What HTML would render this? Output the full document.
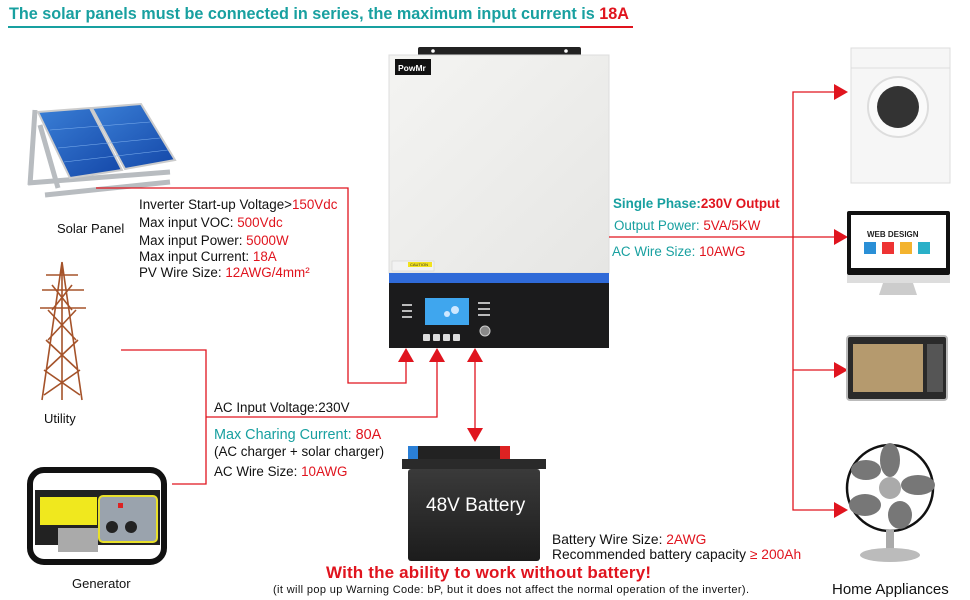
<!DOCTYPE html>
<html><head><meta charset="utf-8"><style>
html,body{margin:0;padding:0;background:#fff;}
svg{display:block;font-family:"Liberation Sans",Arial,sans-serif;}
</style></head><body>
<svg width="970" height="600" viewBox="0 0 970 600" xmlns="http://www.w3.org/2000/svg">
<defs>
<linearGradient id="pan" x1="0" y1="0" x2="1" y2="1"><stop offset="0" stop-color="#3a7fd6"/><stop offset="1" stop-color="#1447a8"/></linearGradient>
<linearGradient id="inv" x1="0" y1="0" x2="1" y2="1"><stop offset="0" stop-color="#f4f4f2"/><stop offset="1" stop-color="#e6e6e4"/></linearGradient>
<linearGradient id="bat" x1="0" y1="0" x2="0" y2="1"><stop offset="0" stop-color="#3a3a3a"/><stop offset="1" stop-color="#1c1c1c"/></linearGradient>
</defs>
<!-- title -->
<text x="9" y="19" font-size="16.2" font-weight="bold" fill="#18a0a0" textLength="620">The solar panels must be connected in series, the maximum input current is <tspan fill="#e0141e">18A</tspan></text>
<line x1="8" y1="27" x2="580" y2="27" stroke="#18a0a0" stroke-width="2"/>
<line x1="580" y1="27" x2="633" y2="27" stroke="#e0141e" stroke-width="2"/>

<!-- solar panel -->
<g>
<path d="M35,110 L30,185 M40,125 L58,188 M28,183 L170,172 M45,195 L170,182" stroke="#b8bcc0" stroke-width="5" fill="none"/>
<polygon points="38,112 90,108 122,170 70,178" fill="url(#pan)" stroke="#ccc" stroke-width="2"/>
<polygon points="92,108 141,104 175,160 125,169" fill="url(#pan)" stroke="#ccc" stroke-width="2"/>
<g stroke="#7fb0ee" stroke-width="0.5"><line x1="50" y1="130" x2="150" y2="122"/><line x1="58" y1="148" x2="160" y2="138"/><line x1="64" y1="162" x2="168" y2="150"/></g>
</g>
<text x="57" y="233" font-size="13" fill="#111">Solar Panel</text>

<!-- utility tower -->
<g stroke="#a5532a" stroke-width="1.6" fill="none">
<path d="M62,262 L42,400 M62,262 L82,400 M62,262 L62,400"/>
<path d="M46,370 L78,340 M78,370 L46,340 M48,340 L76,310 M76,340 L48,310 M52,310 L72,285 M72,310 L52,285 M44,395 L80,370 M80,395 L44,370"/>
<path d="M42,290 L84,290 M40,308 L86,308 M46,275 L78,275"/>
</g>
<text x="44" y="423" font-size="13" fill="#111">Utility</text>

<!-- generator -->
<g>
<rect x="30" y="470" width="134" height="92" rx="14" fill="none" stroke="#111" stroke-width="6"/>
<rect x="35" y="490" width="125" height="55" fill="#222"/>
<rect x="40" y="497" width="57" height="28" fill="#f0e81e"/>
<rect x="99" y="496" width="58" height="46" rx="4" fill="#9aa3ad" stroke="#e8e02a" stroke-width="2"/>
<circle cx="112" cy="527" r="6" fill="#222"/><circle cx="131" cy="527" r="6" fill="#222"/>
<rect x="118" y="503" width="5" height="5" fill="#d22"/>
<rect x="58" y="528" width="40" height="24" fill="#aaa"/>
</g>
<text x="72" y="588" font-size="13" fill="#111">Generator</text>

<!-- inverter -->
<rect x="418" y="47" width="163" height="10" rx="2" fill="#222"/>
<circle cx="433" cy="51" r="1.8" fill="#fff"/><circle cx="566" cy="51" r="1.8" fill="#fff"/>
<rect x="389" y="55" width="220" height="218" fill="url(#inv)" stroke="#ddd"/>
<rect x="395" y="59" width="36" height="16" fill="#111"/>
<text x="398" y="71" font-size="8.5" font-weight="bold" fill="#fff">PowMr</text>
<rect x="392" y="261" width="42" height="10" fill="#f2f2f2" stroke="#ccc" stroke-width="0.5"/>
<rect x="408" y="262" width="24" height="5" fill="#f2e21e"/>
<text x="410" y="266" font-size="4" fill="#333">CAUTION</text>
<rect x="389" y="273" width="220" height="10" fill="#2f6ad8"/>
<rect x="389" y="283" width="220" height="65" fill="#1b1b1c"/>
<rect x="425" y="298" width="44" height="27" fill="#3fa6ee"/>
<circle cx="455" cy="310" r="4" fill="#cfe8ff"/><circle cx="447" cy="314" r="3" fill="#cfe8ff"/>
<g fill="#bbb"><rect x="402" y="304" width="10" height="2"/><rect x="402" y="310" width="10" height="2"/><rect x="402" y="316" width="10" height="2"/>
<rect x="478" y="302" width="12" height="2"/><rect x="478" y="308" width="12" height="2"/><rect x="478" y="314" width="12" height="2"/></g>
<circle cx="485" cy="331" r="5" fill="#888" stroke="#ccc"/>
<g fill="#ddd"><rect x="423" y="334" width="7" height="7" rx="1"/><rect x="433" y="334" width="7" height="7" rx="1"/><rect x="443" y="334" width="7" height="7" rx="1"/><rect x="453" y="334" width="7" height="7" rx="1"/></g>

<!-- connectors -->
<g stroke="#e0141e" stroke-width="1.3" fill="none">
<polyline points="96,188 348,188 348,383 406,383 406,360"/>
<polyline points="121,350 206,350 206,484 172,484"/>
<polyline points="206,417 437,417 437,360"/>
<line x1="475" y1="360" x2="475" y2="430"/>
<line x1="609" y1="237" x2="836" y2="237"/>
<polyline points="836,92 793,92 793,510 836,510"/>
<line x1="793" y1="370" x2="836" y2="370"/>
</g>
<g fill="#e0141e">
<polygon points="406,348 398,362 414,362"/>
<polygon points="437,348 429,362 445,362"/>
<polygon points="475,348 467,362 483,362"/>
<polygon points="475,442 467,428 483,428"/>
<polygon points="848,92 834,84 834,100"/>
<polygon points="848,237 834,229 834,245"/>
<polygon points="848,370 834,362 834,378"/>
<polygon points="848,510 834,502 834,518"/>
</g>

<!-- PV text -->
<g font-size="13.4" fill="#111">
<text x="139" y="209">Inverter Start-up Voltage&gt;<tspan fill="#e0141e">150Vdc</tspan></text>
<text x="139" y="227">Max input VOC: <tspan fill="#e0141e">500Vdc</tspan></text>
<text x="139" y="245">Max input Power: <tspan fill="#e0141e">5000W</tspan></text>
<text x="139" y="261">Max input Current: <tspan fill="#e0141e">18A</tspan></text>
<text x="139" y="277">PV Wire Size: <tspan fill="#e0141e">12AWG/4mm²</tspan></text>
<text x="214" y="412">AC Input Voltage:230V</text>
<text x="214" y="439" font-size="14.4" fill="#18a0a0">Max Charing Current: <tspan fill="#e0141e">80A</tspan></text>
<text x="214" y="456">(AC charger + solar charger)</text>
<text x="214" y="476">AC Wire Size: <tspan fill="#e0141e">10AWG</tspan></text>
<text x="613" y="208" font-weight="bold" fill="#18a0a0">Single Phase:<tspan fill="#e0141e">230V Output</tspan></text>
<text x="614" y="230" fill="#18a0a0">Output Power: <tspan fill="#e0141e">5VA/5KW</tspan></text>
<text x="612" y="256" fill="#18a0a0">AC Wire Size: <tspan fill="#e0141e">10AWG</tspan></text>
<text x="552" y="544" font-size="13.8">Battery Wire Size: <tspan fill="#e0141e">2AWG</tspan></text>
<text x="552" y="559" font-size="13.8">Recommended battery capacity <tspan fill="#e0141e">≥ 200Ah</tspan></text>
</g>

<!-- battery -->
<rect x="408" y="446" width="10" height="14" fill="#2a7fd6"/>
<rect x="500" y="446" width="10" height="14" fill="#d22"/>
<rect x="418" y="446" width="82" height="14" fill="#222"/>
<rect x="402" y="459" width="144" height="10" fill="#2a2a2a"/>
<rect x="408" y="469" width="132" height="92" rx="3" fill="url(#bat)"/>
<text x="426" y="511" font-size="19" fill="#fff">48V Battery</text>

<text x="326" y="578" font-size="17" font-weight="bold" fill="#e0141e" textLength="325">With the ability to work without battery!</text>
<text x="273" y="593" font-size="11" fill="#111" textLength="476">(it will pop up Warning Code: bP, but it does not affect the normal operation of the inverter).</text>

<!-- washer -->
<rect x="851" y="48" width="99" height="135" fill="#f6f6f6" stroke="#ddd"/>
<line x1="851" y1="68" x2="950" y2="68" stroke="#ddd"/>
<circle cx="898" cy="107" r="30" fill="#fafafa" stroke="#ddd" stroke-width="2"/>
<circle cx="898" cy="107" r="21" fill="#333"/>
<!-- monitor -->
<rect x="847" y="211" width="103" height="64" rx="2" fill="#111"/>
<rect x="851" y="215" width="95" height="53" fill="#fff"/>
<rect x="847" y="275" width="103" height="8" fill="#ddd"/>
<polygon points="883,283 913,283 917,295 879,295" fill="#ccc"/>
<text x="867" y="237" font-size="8" font-weight="bold" fill="#222">WEB DESIGN</text>
<rect x="864" y="242" width="12" height="12" fill="#2a8fd6"/><rect x="882" y="242" width="12" height="12" fill="#e33"/><rect x="900" y="242" width="12" height="12" fill="#f3b32e"/><rect x="918" y="242" width="12" height="12" fill="#2ab0c8"/>
<!-- microwave -->
<rect x="847" y="336" width="100" height="64" rx="3" fill="#2a2a2a" stroke="#bbb" stroke-width="2"/>
<rect x="853" y="344" width="70" height="48" fill="#b59a6e"/>
<rect x="927" y="344" width="16" height="48" fill="#555"/>
<!-- fan -->
<circle cx="890" cy="488" r="43" fill="#fff" stroke="#111" stroke-width="2.5"/>
<g fill="#777"><ellipse cx="890" cy="460" rx="10" ry="17"/><ellipse cx="918" cy="485" rx="17" ry="10"/><ellipse cx="900" cy="515" rx="12" ry="14"/><ellipse cx="865" cy="505" rx="16" ry="11"/><ellipse cx="866" cy="470" rx="15" ry="10"/></g>
<circle cx="890" cy="488" r="11" fill="#aaa"/>
<rect x="886" y="530" width="8" height="22" fill="#aaa"/>
<ellipse cx="890" cy="555" rx="30" ry="7" fill="#bbb"/>
<text x="832" y="594" font-size="15" fill="#111">Home Appliances</text>
</svg>
</body></html>
